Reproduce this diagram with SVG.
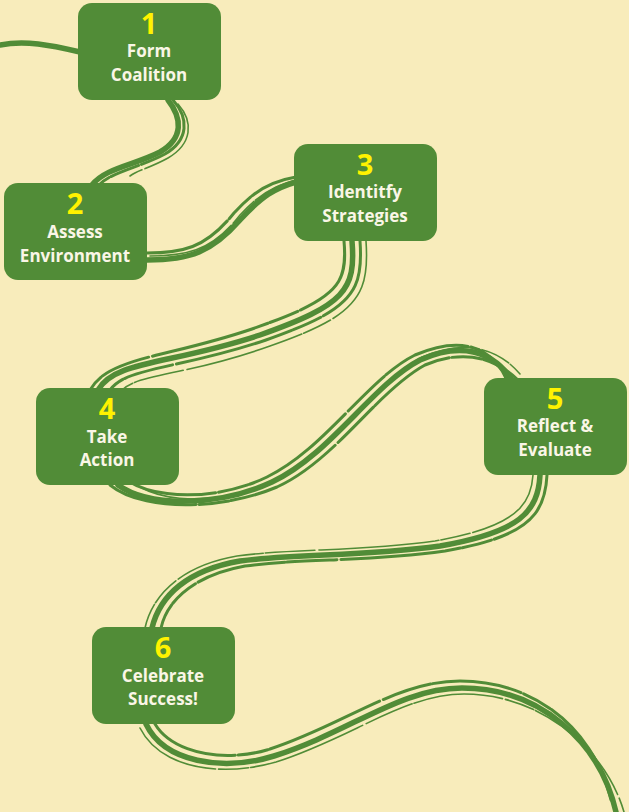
<svg xmlns="http://www.w3.org/2000/svg" width="629" height="812" viewBox="0 0 629 812">
<style>
.bg{fill:#F8ECBB}
.box{fill:#518C37}
.num{fill:#FFF200;font-family:"Open Sans","Noto Sans",sans-serif;font-weight:700;font-size:29px;text-anchor:middle}
.lbl{fill:#FAF6E6;font-family:"Open Sans","Noto Sans",sans-serif;font-weight:700;font-size:17px;text-anchor:middle}
.b{fill:none;stroke:#518C37;stroke-linecap:round}
.w1{stroke-width:5.5}
.w2{stroke-width:3}
.w3{stroke-width:1.6}
.d{stroke-dasharray:90 3 30 2 120 4 50 2}
</style>
<rect class="bg" x="0" y="0" width="629" height="812"/>
<g id="connectors">
  <path class="b w1" d="M0,45 C25,40 50,45 80,52"/>
  <g>
    <path class="b w1" d="M168,100 C182,118 184,138 160,152 C135,165 105,168 92,185"/>
    <path class="b w2 d" d="M173,100 C189,118 189,140 165,154 C141,167 111,172 99,185"/>
    <path class="b w3 d" d="M178,104 C194,122 192,144 168,158 C150,168 138,170 130,176"/>
  </g>
  <g>
    <path class="b w1" d="M147,260 C190,260 212,252 240,220 C262,196 275,188 296,182"/>
    <path class="b w2 d" d="M147,253 C188,253 208,245 234,213 C256,189 272,181 296,177"/>
    <path class="b w3 d" d="M150,256 C192,256 214,248 240,215 C262,191 278,185 296,180"/>
  </g>
  <g>
    <path class="b w1" d="M352,241 C356,290 345,305 260,335 C170,365 115,360 98,390"/>
    <path class="b w2 d" d="M360,241 C364,294 350,310 266,340 C178,370 128,366 110,390"/>
    <path class="b w2 d" d="M344,241 C348,286 337,299 252,329 C164,359 110,356 90,390"/>
    <path class="b w3 d" d="M366,241 C370,297 356,316 270,346 C186,376 140,373 122,390"/>
  </g>
  <g>
    <path class="b w1" d="M118,485 C150,508 220,506 272,482 C330,455 372,385 420,360 C460,342 492,350 512,380"/>
    <path class="b w2 d" d="M110,485 C142,511 220,511 277,487 C335,461 377,391 425,365 C463,349 494,357 518,380"/>
    <path class="b w2 d" d="M128,481 C160,501 222,499 267,477 C325,449 367,379 415,355 C457,337 490,343 507,380"/>
    <path class="b w3 d" d="M140,487 C172,505 232,503 276,480 C334,452 374,384 422,357 C462,340 496,346 520,374"/>
  </g>
  <g>
    <path class="b w1" d="M540,475 C538,512 520,532 440,546 C360,557 300,553 240,561 C188,570 160,595 152,628"/>
    <path class="b w2 d" d="M547,475 C545,517 525,537 445,551 C365,562 305,558 245,566 C195,575 167,600 161,628"/>
    <path class="b w3 d" d="M533,475 C531,507 513,527 435,541 C357,552 297,548 237,556 C185,565 153,592 145,628"/>
  </g>
  <g>
    <path class="b w1" d="M146,724 C164,762 222,772 274,756 C350,732 400,688 462,688 C540,688 600,742 616,812"/>
    <path class="b w2 d" d="M155,724 C173,754 226,763 270,749 C344,725 396,681 460,681 C536,681 594,730 611,800"/>
    <path class="b w3 d" d="M140,728 C160,768 220,778 276,762 C352,738 404,694 464,694 C542,694 606,750 624,812"/>
  </g>
</g>
<g id="n1">
  <rect class="box" x="78" y="3" width="143" height="97" rx="14"/>
  <text class="num" x="149" y="34">1</text>
  <text class="lbl" x="149" y="57">Form</text>
  <text class="lbl" x="149" y="81">Coalition</text>
</g>
<g id="n2">
  <rect class="box" x="4" y="183" width="143" height="97" rx="14"/>
  <text class="num" x="75" y="214">2</text>
  <text class="lbl" x="75" y="238">Assess</text>
  <text class="lbl" x="75" y="262">Environment</text>
</g>
<g id="n3">
  <rect class="box" x="294" y="144" width="143" height="97" rx="14"/>
  <text class="num" x="365" y="175">3</text>
  <text class="lbl" x="365" y="198">Identitfy</text>
  <text class="lbl" x="365" y="222">Strategies</text>
</g>
<g id="n4">
  <rect class="box" x="36" y="388" width="143" height="97" rx="14"/>
  <text class="num" x="107" y="419">4</text>
  <text class="lbl" x="107" y="443">Take</text>
  <text class="lbl" x="107" y="466">Action</text>
</g>
<g id="n5">
  <rect class="box" x="484" y="378" width="143" height="97" rx="14"/>
  <text class="num" x="555" y="409">5</text>
  <text class="lbl" x="555" y="432">Reflect &amp;</text>
  <text class="lbl" x="555" y="456">Evaluate</text>
</g>
<g id="n6">
  <rect class="box" x="92" y="627" width="143" height="97" rx="14"/>
  <text class="num" x="163" y="658">6</text>
  <text class="lbl" x="163" y="682">Celebrate</text>
  <text class="lbl" x="163" y="705">Success!</text>
</g>
</svg>
